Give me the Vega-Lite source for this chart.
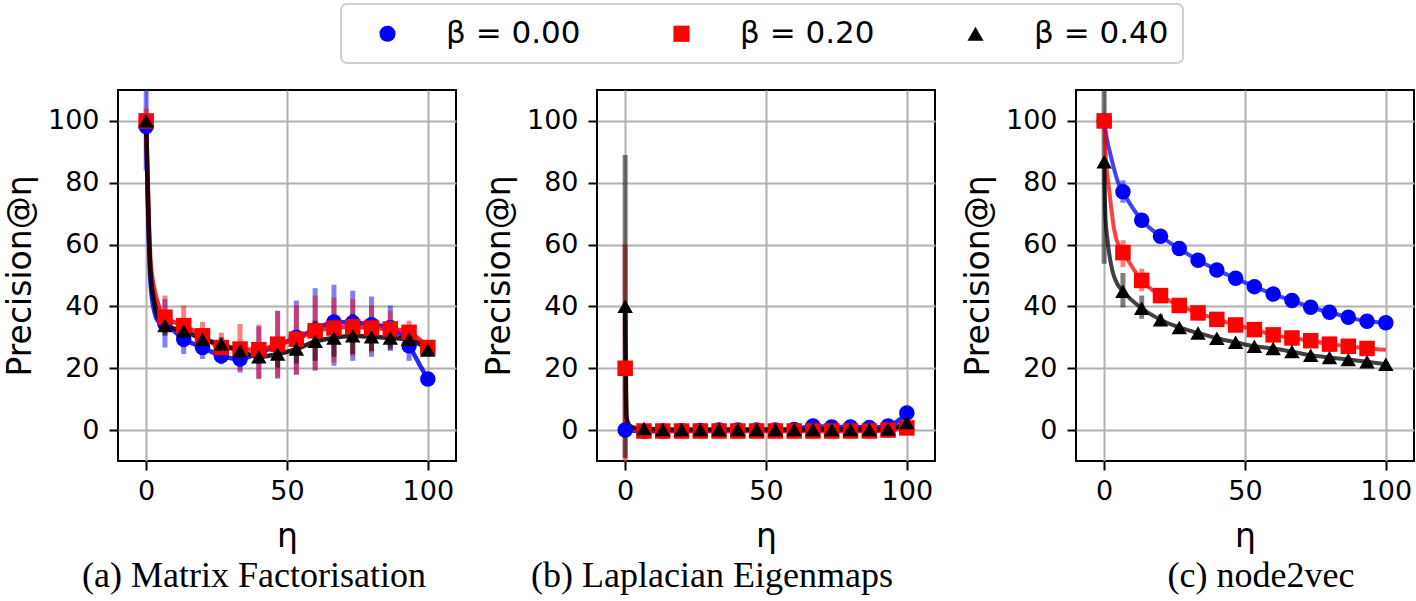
{
  "$schema": "https://vega.github.io/schema/vega-lite/v6.json",
  "padding": {"left": 3, "top": 2, "right": 0, "bottom": 0},
  "background": "white",
  "config": {
    "view": {"stroke": "#000000", "strokeWidth": 2},
    "axis": {
      "domain": false, "grid": true, "gridColor": "#b0b0b0", "gridWidth": 2,
      "tickColor": "#000000", "tickWidth": 2, "tickSize": 9,
      "labelFont": "DejaVu Sans", "labelFontSize": 27, "labelColor": "#000000",
      "titleFont": "DejaVu Sans", "titleFontSize": 33, "titleFontWeight": "normal", "titleColor": "#000000"
    },
    "axisX": {"labelPadding": 8, "titlePadding": 16},
    "axisY": {"labelPadding": 10, "titlePadding": 10},
    "legend": {
      "labelFont": "DejaVu Sans", "labelFontSize": 31, "labelColor": "#000000",
      "strokeColor": "#d0d0d0", "strokeWidth": 2, "cornerRadius": 6, "fillColor": "#ffffff",
      "padding": 14, "symbolOffset": 17, "labelOffset": 43, "columnPadding": 68,
      "symbolStrokeWidth": 0, "symbolSize": 260
    },
    "title": {"font": "Liberation Serif", "fontSize": 36, "fontWeight": "normal", "color": "#000000"}
  },
  "datasets": {
    "a": [
      {"n":0,"b":"β = 0.00","v":98.2,"lo":84,"hi":114,"m":1},
      {"n":1.5,"b":"β = 0.00","v":48,"m":0},
      {"n":3,"b":"β = 0.00","v":38,"m":0},
      {"n":4.5,"b":"β = 0.00","v":35,"m":0},
      {"n":6.67,"b":"β = 0.00","v":34.4,"lo":26.7,"hi":42.4,"m":1},
      {"n":13.33,"b":"β = 0.00","v":29.4,"lo":24.6,"hi":34.4,"m":1},
      {"n":20,"b":"β = 0.00","v":26.7,"lo":23,"hi":30.5,"m":1},
      {"n":26.67,"b":"β = 0.00","v":24.0,"lo":21.3,"hi":27,"m":1},
      {"n":33.33,"b":"β = 0.00","v":23.0,"lo":18.6,"hi":27.8,"m":1},
      {"n":40,"b":"β = 0.00","v":25.0,"lo":16.6,"hi":33.5,"m":1},
      {"n":46.67,"b":"β = 0.00","v":27.3,"lo":16.6,"hi":38.6,"m":1},
      {"n":53.33,"b":"β = 0.00","v":30.0,"lo":17.9,"hi":41.9,"m":1},
      {"n":60,"b":"β = 0.00","v":32.4,"lo":19.2,"hi":45.9,"m":1},
      {"n":66.67,"b":"β = 0.00","v":35.0,"lo":20.8,"hi":47,"m":1},
      {"n":73.33,"b":"β = 0.00","v":34.8,"lo":22.4,"hi":45.1,"m":1},
      {"n":80,"b":"β = 0.00","v":34.1,"lo":23.7,"hi":43.2,"m":1},
      {"n":86.67,"b":"β = 0.00","v":33.2,"lo":25.6,"hi":40.3,"m":1},
      {"n":93.33,"b":"β = 0.00","v":27.3,"lo":22.4,"hi":32.7,"m":1},
      {"n":97.3,"b":"β = 0.00","v":20.8,"m":0},
      {"n":100,"b":"β = 0.00","v":16.5,"m":1},

      {"n":0,"b":"β = 0.20","v":100,"lo":96,"hi":104,"m":1},
      {"n":1.5,"b":"β = 0.20","v":55,"m":0},
      {"n":3,"b":"β = 0.20","v":45,"m":0},
      {"n":4.5,"b":"β = 0.20","v":40,"m":0},
      {"n":6.67,"b":"β = 0.20","v":36.5,"lo":31,"hi":43.5,"m":1},
      {"n":13.33,"b":"β = 0.20","v":33.8,"lo":26.7,"hi":40.3,"m":1},
      {"n":20,"b":"β = 0.20","v":30.5,"lo":26.5,"hi":35,"m":1},
      {"n":26.67,"b":"β = 0.20","v":26.7,"lo":22.5,"hi":31.5,"m":1},
      {"n":33.33,"b":"β = 0.20","v":26.2,"lo":19.2,"hi":34.3,"m":1},
      {"n":40,"b":"β = 0.20","v":26.0,"lo":16.6,"hi":34.1,"m":1},
      {"n":46.67,"b":"β = 0.20","v":27.8,"lo":17,"hi":38.5,"m":1},
      {"n":53.33,"b":"β = 0.20","v":29.4,"lo":18,"hi":40.3,"m":1},
      {"n":60,"b":"β = 0.20","v":32.1,"lo":19.5,"hi":43.5,"m":1},
      {"n":66.67,"b":"β = 0.20","v":33.0,"lo":21.9,"hi":42.9,"m":1},
      {"n":73.33,"b":"β = 0.20","v":33.4,"lo":24,"hi":42.4,"m":1},
      {"n":80,"b":"β = 0.20","v":33.0,"lo":25.1,"hi":40.3,"m":1},
      {"n":86.67,"b":"β = 0.20","v":32.7,"lo":26.7,"hi":38.6,"m":1},
      {"n":93.33,"b":"β = 0.20","v":31.6,"lo":28.9,"hi":35.4,"m":1},
      {"n":100,"b":"β = 0.20","v":26.7,"m":1},

      {"n":0,"b":"β = 0.40","v":100,"lo":98,"hi":102,"m":1},
      {"n":1.5,"b":"β = 0.40","v":51.6,"m":0},
      {"n":3,"b":"β = 0.40","v":40.8,"m":0},
      {"n":4.5,"b":"β = 0.40","v":35.9,"m":0},
      {"n":6.67,"b":"β = 0.40","v":33.8,"lo":30.5,"hi":37.5,"m":1},
      {"n":13.33,"b":"β = 0.40","v":32.1,"lo":29,"hi":35,"m":1},
      {"n":20,"b":"β = 0.40","v":29.4,"lo":27,"hi":32,"m":1},
      {"n":26.67,"b":"β = 0.40","v":27.8,"lo":25.5,"hi":30,"m":1},
      {"n":33.33,"b":"β = 0.40","v":25.6,"lo":23.5,"hi":27.5,"m":1},
      {"n":40,"b":"β = 0.40","v":23.7,"lo":21.5,"hi":26,"m":1},
      {"n":46.67,"b":"β = 0.40","v":24.6,"lo":20.2,"hi":27,"m":1},
      {"n":53.33,"b":"β = 0.40","v":26.2,"lo":21.5,"hi":30,"m":1},
      {"n":60,"b":"β = 0.40","v":28.7,"lo":22.4,"hi":35.4,"m":1},
      {"n":66.67,"b":"β = 0.40","v":29.8,"lo":23.7,"hi":36.5,"m":1},
      {"n":73.33,"b":"β = 0.40","v":30.5,"lo":24.6,"hi":37.6,"m":1},
      {"n":80,"b":"β = 0.40","v":30.2,"lo":25.6,"hi":36.5,"m":1},
      {"n":86.67,"b":"β = 0.40","v":29.8,"lo":26,"hi":34.5,"m":1},
      {"n":93.33,"b":"β = 0.40","v":29.4,"lo":27,"hi":33,"m":1},
      {"n":100,"b":"β = 0.40","v":25.9,"m":1}
    ],
    "b": [
      {"n":0,"b":"β = 0.00","v":0,"m":1},
      {"n":6.67,"b":"β = 0.00","v":-0.4,"m":1},
      {"n":13.33,"b":"β = 0.00","v":-0.3,"m":1},
      {"n":20,"b":"β = 0.00","v":-0.2,"m":1},
      {"n":26.67,"b":"β = 0.00","v":-0.1,"m":1},
      {"n":33.33,"b":"β = 0.00","v":0,"m":1},
      {"n":40,"b":"β = 0.00","v":0,"m":1},
      {"n":46.67,"b":"β = 0.00","v":0,"m":1},
      {"n":53.33,"b":"β = 0.00","v":0,"m":1},
      {"n":60,"b":"β = 0.00","v":0.2,"m":1},
      {"n":66.67,"b":"β = 0.00","v":1.3,"m":1},
      {"n":73.33,"b":"β = 0.00","v":1.0,"m":1},
      {"n":80,"b":"β = 0.00","v":1.0,"m":1},
      {"n":86.67,"b":"β = 0.00","v":0.8,"m":1},
      {"n":93.33,"b":"β = 0.00","v":1.3,"m":1},
      {"n":100,"b":"β = 0.00","v":5.5,"m":1},

      {"n":0,"b":"β = 0.20","v":20,"lo":-20,"hi":60,"m":1},
      {"n":0.5,"b":"β = 0.20","v":3,"m":0},
      {"n":1.5,"b":"β = 0.20","v":0.8,"m":0},
      {"n":6.67,"b":"β = 0.20","v":-0.3,"m":1},
      {"n":13.33,"b":"β = 0.20","v":-0.3,"m":1},
      {"n":20,"b":"β = 0.20","v":-0.3,"m":1},
      {"n":26.67,"b":"β = 0.20","v":-0.3,"m":1},
      {"n":33.33,"b":"β = 0.20","v":-0.3,"m":1},
      {"n":40,"b":"β = 0.20","v":-0.3,"m":1},
      {"n":46.67,"b":"β = 0.20","v":-0.3,"m":1},
      {"n":53.33,"b":"β = 0.20","v":-0.3,"m":1},
      {"n":60,"b":"β = 0.20","v":-0.3,"m":1},
      {"n":66.67,"b":"β = 0.20","v":-0.3,"m":1},
      {"n":73.33,"b":"β = 0.20","v":-0.3,"m":1},
      {"n":80,"b":"β = 0.20","v":-0.3,"m":1},
      {"n":86.67,"b":"β = 0.20","v":-0.3,"m":1},
      {"n":93.33,"b":"β = 0.20","v":0,"m":1},
      {"n":100,"b":"β = 0.20","v":0.7,"m":1},

      {"n":0,"b":"β = 0.40","v":40,"lo":-9,"hi":89,"m":1},
      {"n":0.5,"b":"β = 0.40","v":4,"m":0},
      {"n":1.5,"b":"β = 0.40","v":1.5,"m":0},
      {"n":3,"b":"β = 0.40","v":0.8,"m":0},
      {"n":6.67,"b":"β = 0.40","v":0.5,"m":1},
      {"n":13.33,"b":"β = 0.40","v":0.2,"m":1},
      {"n":20,"b":"β = 0.40","v":0.2,"m":1},
      {"n":26.67,"b":"β = 0.40","v":0.2,"m":1},
      {"n":33.33,"b":"β = 0.40","v":0.2,"m":1},
      {"n":40,"b":"β = 0.40","v":0.2,"m":1},
      {"n":46.67,"b":"β = 0.40","v":0.2,"m":1},
      {"n":53.33,"b":"β = 0.40","v":0.2,"m":1},
      {"n":60,"b":"β = 0.40","v":0.2,"m":1},
      {"n":66.67,"b":"β = 0.40","v":0.2,"m":1},
      {"n":73.33,"b":"β = 0.40","v":0.2,"m":1},
      {"n":80,"b":"β = 0.40","v":0.2,"m":1},
      {"n":86.67,"b":"β = 0.40","v":0.2,"m":1},
      {"n":93.33,"b":"β = 0.40","v":0.3,"m":1},
      {"n":100,"b":"β = 0.40","v":2.4,"m":1}
    ],
    "c": [
      {"n":0,"b":"β = 0.00","v":100,"m":1},
      {"n":1,"b":"β = 0.00","v":94,"m":0},
      {"n":2,"b":"β = 0.00","v":90,"m":0},
      {"n":3,"b":"β = 0.00","v":86.3,"m":0},
      {"n":5,"b":"β = 0.00","v":80,"m":0},
      {"n":6.67,"b":"β = 0.00","v":77.1,"lo":73.5,"hi":80.8,"m":1},
      {"n":13.33,"b":"β = 0.00","v":67.9,"lo":66.4,"hi":69.4,"m":1},
      {"n":20,"b":"β = 0.00","v":62.7,"lo":61.5,"hi":63.9,"m":1},
      {"n":26.67,"b":"β = 0.00","v":58.7,"lo":57.7,"hi":59.7,"m":1},
      {"n":33.33,"b":"β = 0.00","v":54.9,"m":1},
      {"n":40,"b":"β = 0.00","v":51.8,"m":1},
      {"n":46.67,"b":"β = 0.00","v":49.1,"m":1},
      {"n":53.33,"b":"β = 0.00","v":46.4,"m":1},
      {"n":60,"b":"β = 0.00","v":44.0,"m":1},
      {"n":66.67,"b":"β = 0.00","v":41.9,"m":1},
      {"n":73.33,"b":"β = 0.00","v":39.7,"m":1},
      {"n":80,"b":"β = 0.00","v":38.1,"m":1},
      {"n":86.67,"b":"β = 0.00","v":36.5,"m":1},
      {"n":93.33,"b":"β = 0.00","v":35.2,"m":1},
      {"n":100,"b":"β = 0.00","v":34.7,"m":1},

      {"n":0,"b":"β = 0.20","v":100,"m":1},
      {"n":0.6,"b":"β = 0.20","v":88,"m":0},
      {"n":1.8,"b":"β = 0.20","v":77.6,"m":0},
      {"n":3.6,"b":"β = 0.20","v":64.6,"m":0},
      {"n":5.3,"b":"β = 0.20","v":59.2,"m":0},
      {"n":6.67,"b":"β = 0.20","v":57.4,"lo":52.7,"hi":61.4,"m":1},
      {"n":13.33,"b":"β = 0.20","v":48.4,"lo":44.9,"hi":52.2,"m":1},
      {"n":20,"b":"β = 0.20","v":43.5,"lo":41.5,"hi":45.5,"m":1},
      {"n":26.67,"b":"β = 0.20","v":40.3,"lo":39.1,"hi":41.5,"m":1},
      {"n":33.33,"b":"β = 0.20","v":37.9,"m":1},
      {"n":40,"b":"β = 0.20","v":35.8,"m":1},
      {"n":46.67,"b":"β = 0.20","v":34.0,"m":1},
      {"n":53.33,"b":"β = 0.20","v":32.5,"m":1},
      {"n":60,"b":"β = 0.20","v":30.8,"m":1},
      {"n":66.67,"b":"β = 0.20","v":29.8,"m":1},
      {"n":73.33,"b":"β = 0.20","v":28.9,"m":1},
      {"n":80,"b":"β = 0.20","v":27.8,"m":1},
      {"n":86.67,"b":"β = 0.20","v":27.1,"m":1},
      {"n":93.33,"b":"β = 0.20","v":26.4,"m":1},
      {"n":100,"b":"β = 0.20","v":26.0,"m":0},

      {"n":0,"b":"β = 0.40","v":86.8,"lo":53.8,"hi":120,"m":1},
      {"n":0.4,"b":"β = 0.40","v":70,"m":0},
      {"n":1.2,"b":"β = 0.40","v":61.4,"m":0},
      {"n":2.9,"b":"β = 0.40","v":51.6,"m":0},
      {"n":4.6,"b":"β = 0.40","v":47.4,"m":0},
      {"n":6.67,"b":"β = 0.40","v":44.9,"lo":39.7,"hi":50.8,"m":1},
      {"n":13.33,"b":"β = 0.40","v":39.4,"lo":36,"hi":43.5,"m":1},
      {"n":20,"b":"β = 0.40","v":35.7,"lo":34,"hi":37.5,"m":1},
      {"n":26.67,"b":"β = 0.40","v":33.2,"lo":32.2,"hi":34.2,"m":1},
      {"n":33.33,"b":"β = 0.40","v":31.4,"m":1},
      {"n":40,"b":"β = 0.40","v":29.7,"m":1},
      {"n":46.67,"b":"β = 0.40","v":28.4,"m":1},
      {"n":53.33,"b":"β = 0.40","v":27.1,"m":1},
      {"n":60,"b":"β = 0.40","v":26.4,"m":1},
      {"n":66.67,"b":"β = 0.40","v":25.4,"m":1},
      {"n":73.33,"b":"β = 0.40","v":24.2,"m":1},
      {"n":80,"b":"β = 0.40","v":23.5,"m":1},
      {"n":86.67,"b":"β = 0.40","v":22.8,"m":1},
      {"n":93.33,"b":"β = 0.40","v":22.1,"m":1},
      {"n":100,"b":"β = 0.40","v":21.3,"m":1}
    ]
  },
  "bounds": "flush",
  "spacing": 141,
  "resolve": {"legend": {"color": "independent", "shape": "independent"}},
  "hconcat": [
    {
      "width": 338, "height": 371,
      "data": {"name": "a"},
      "title": {"text": "(a) Matrix Factorisation", "orient": "bottom", "anchor": "middle", "frame": "group", "dx": -33, "offset": 6},
      "resolve": {"legend": {"color": "independent", "shape": "independent"}},
      "encoding": {
        "x": {"field": "n", "type": "quantitative", "scale": {"domain": [-10, 110], "nice": false, "zero": false}, "axis": {"values": [0, 50, 100], "title": "η"}}
      },
      "layer": [
        {"transform": [{"filter": "isValid(datum.lo)"}], "mark": {"type": "rule", "strokeWidth": 5, "opacity": 0.5, "clip": true},
         "encoding": {"y": {"field": "lo", "type": "quantitative", "scale": {"domain": [-10, 110], "nice": false}, "axis": {"values": [0, 20, 40, 60, 80, 100], "title": "Precision@η"}}, "y2": {"field": "hi"},
           "color": {"field": "b", "type": "nominal", "scale": {"domain": ["β = 0.00", "β = 0.20", "β = 0.40"], "range": ["#0000ff", "#ff0000", "#000000"]}, "legend": null}}},
        {"mark": {"type": "line", "strokeWidth": 4.5, "opacity": 0.85, "interpolate": "monotone", "clip": true},
         "encoding": {"y": {"field": "v", "type": "quantitative"},
           "color": {"field": "b", "type": "nominal", "legend": null}}},
        {"transform": [{"filter": "datum.m == 1"}], "mark": {"type": "point", "filled": true, "opacity": 1, "size": 240},
         "encoding": {"y": {"field": "v", "type": "quantitative"},
           "color": {"field": "b", "type": "nominal", "legend": {"title": null, "orient": "none", "legendX": 223, "legendY": -86, "direction": "horizontal", "columns": 3}},
           "shape": {"field": "b", "type": "nominal", "scale": {"domain": ["β = 0.00", "β = 0.20", "β = 0.40"], "range": ["circle", "square", "triangle-up"]}, "legend": {"title": null, "orient": "none", "legendX": 223, "legendY": -86, "direction": "horizontal", "columns": 3}}}}
      ]
    },
    {
      "width": 338, "height": 371,
      "data": {"name": "b"},
      "title": {"text": "(b) Laplacian Eigenmaps", "orient": "bottom", "anchor": "middle", "frame": "group", "dx": -54, "offset": 6},
      "resolve": {"legend": {"color": "independent", "shape": "independent"}},
      "encoding": {
        "x": {"field": "n", "type": "quantitative", "scale": {"domain": [-10, 110], "nice": false, "zero": false}, "axis": {"values": [0, 50, 100], "title": "η"}}
      },
      "layer": [
        {"transform": [{"filter": "isValid(datum.lo)"}], "mark": {"type": "rule", "strokeWidth": 5, "opacity": 0.5, "clip": true},
         "encoding": {"y": {"field": "lo", "type": "quantitative", "scale": {"domain": [-10, 110], "nice": false}, "axis": {"values": [0, 20, 40, 60, 80, 100], "title": "Precision@η"}}, "y2": {"field": "hi"},
           "color": {"field": "b", "type": "nominal", "scale": {"domain": ["β = 0.00", "β = 0.20", "β = 0.40"], "range": ["#0000ff", "#ff0000", "#000000"]}, "legend": null}}},
        {"mark": {"type": "line", "strokeWidth": 4.5, "opacity": 0.85, "interpolate": "monotone", "clip": true},
         "encoding": {"y": {"field": "v", "type": "quantitative"},
           "color": {"field": "b", "type": "nominal", "legend": null}}},
        {"transform": [{"filter": "datum.m == 1"}], "mark": {"type": "point", "filled": true, "opacity": 1, "size": 240},
         "encoding": {"y": {"field": "v", "type": "quantitative"},
           "color": {"field": "b", "type": "nominal", "legend": null},
           "shape": {"field": "b", "type": "nominal", "scale": {"domain": ["β = 0.00", "β = 0.20", "β = 0.40"], "range": ["circle", "square", "triangle-up"]}, "legend": null}}}
      ]
    },
    {
      "width": 338, "height": 371,
      "data": {"name": "c"},
      "title": {"text": "(c) node2vec", "orient": "bottom", "anchor": "middle", "frame": "group", "dx": 16, "offset": 6},
      "resolve": {"legend": {"color": "independent", "shape": "independent"}},
      "encoding": {
        "x": {"field": "n", "type": "quantitative", "scale": {"domain": [-10, 110], "nice": false, "zero": false}, "axis": {"values": [0, 50, 100], "title": "η"}}
      },
      "layer": [
        {"transform": [{"filter": "isValid(datum.lo)"}], "mark": {"type": "rule", "strokeWidth": 5, "opacity": 0.5, "clip": true},
         "encoding": {"y": {"field": "lo", "type": "quantitative", "scale": {"domain": [-10, 110], "nice": false}, "axis": {"values": [0, 20, 40, 60, 80, 100], "title": "Precision@η"}}, "y2": {"field": "hi"},
           "color": {"field": "b", "type": "nominal", "scale": {"domain": ["β = 0.00", "β = 0.20", "β = 0.40"], "range": ["#0000ff", "#ff0000", "#000000"]}, "legend": null}}},
        {"mark": {"type": "line", "strokeWidth": 4, "opacity": 0.75, "interpolate": "monotone", "clip": true},
         "encoding": {"y": {"field": "v", "type": "quantitative"},
           "color": {"field": "b", "type": "nominal", "legend": null}}},
        {"transform": [{"filter": "datum.m == 1"}], "mark": {"type": "point", "filled": true, "opacity": 1, "size": 240},
         "encoding": {"y": {"field": "v", "type": "quantitative"},
           "color": {"field": "b", "type": "nominal", "legend": null},
           "shape": {"field": "b", "type": "nominal", "scale": {"domain": ["β = 0.00", "β = 0.20", "β = 0.40"], "range": ["circle", "square", "triangle-up"]}, "legend": null}}}
      ]
    }
  ]
}
